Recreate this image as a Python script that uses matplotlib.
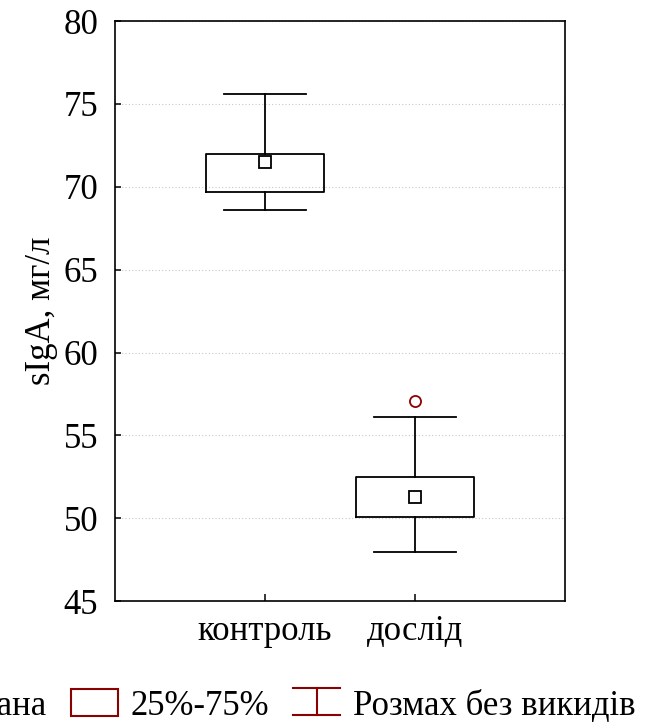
import numpy as np
import matplotlib
matplotlib.use("Agg")
import matplotlib.pyplot as plt
from matplotlib.lines import Line2D
from matplotlib.patches import Rectangle
from matplotlib.legend_handler import HandlerBase

plt.rcParams['font.family'] = ['Liberation Serif', 'DejaVu Serif']

# data
groups = ['контроль', 'дослід']
medians = [71.5, 51.3]
q1 = [69.7, 50.1]
q3 = [72.0, 52.5]
whis_lo = [68.6, 48.0]
whis_hi = [75.6, 56.1]
outliers = [[], [57.1]]
yticks = [45, 50, 55, 60, 65, 70, 75, 80]

dark_red = '#8b0000'
fs = 25

fig = plt.figure(figsize=(6.53, 7.27), dpi=100)
ax = fig.add_axes([0.176, 0.173, 0.689, 0.798])

pos = np.arange(1, len(groups) + 1)
stats = []
for i in range(len(groups)):
    stats.append(dict(med=medians[i], q1=q1[i], q3=q3[i],
                      whislo=whis_lo[i], whishi=whis_hi[i],
                      fliers=outliers[i], label=groups[i]))

ax.bxp(stats, positions=pos, widths=0.79, capwidths=0.55,
       showfliers=True,
       boxprops=dict(color='black', linewidth=1.3),
       whiskerprops=dict(color='black', linewidth=1.3),
       capprops=dict(color='black', linewidth=1.3),
       medianprops=dict(visible=False),
       flierprops=dict(marker='o', markerfacecolor='none',
                       markeredgecolor=dark_red, markersize=8,
                       markeredgewidth=1.3))
ax.plot(pos, medians, linestyle='none', marker='s', markersize=9,
        markerfacecolor='white', markeredgecolor='black',
        markeredgewidth=1.3, zorder=5)

ax.set_xlim(0, 3)
ax.set_ylim(45, 80)
ax.set_yticks(yticks)
ax.set_xticks(pos)
ax.set_xticklabels(groups)
ax.yaxis.grid(True, linestyle=(0, (1, 2)), color='#c8c8c8', linewidth=0.8)
ax.set_axisbelow(True)
ax.tick_params(axis='both', direction='in', labelsize=fs, width=1.1)
ax.tick_params(axis='y', length=4, pad=12)
ax.tick_params(axis='x', length=5, pad=10)
for s in ax.spines.values():
    s.set_linewidth(1.2)
ax.set_ylabel('sIgA, мг/л', fontsize=fs, labelpad=4)


class WhiskerHandler(HandlerBase):
    def create_artists(self, legend, orig_handle, xdescent, ydescent,
                       width, height, fontsize, trans):
        lw = 1.5
        top = Line2D([0, width], [height, height], color=dark_red, lw=lw, transform=trans)
        bot = Line2D([0, width], [0, 0], color=dark_red, lw=lw, transform=trans)
        mid = Line2D([width / 2, width / 2], [0, height], color=dark_red, lw=lw, transform=trans)
        return [top, mid, bot]


h_med = Line2D([], [], linestyle='none', marker='s', markersize=9,
               markerfacecolor='white', markeredgecolor=dark_red, markeredgewidth=1.3)
h_box = Rectangle((0, 0), 1, 1, facecolor='white', edgecolor=dark_red, linewidth=1.5)
h_whis = Line2D([], [])

fig.legend([h_med, h_box, h_whis], ['Медіана', '25%-75%', 'Розмах без викидів'],
           handler_map={h_whis: WhiskerHandler()},
           loc='center', bbox_to_anchor=(0.383, 0.029), ncol=3, frameon=False,
           fontsize=fs, handlelength=1.35, handleheight=0.8,
           handletextpad=0.37, columnspacing=0.7, borderaxespad=0, borderpad=0)

fig.savefig('out.png', dpi=100)
